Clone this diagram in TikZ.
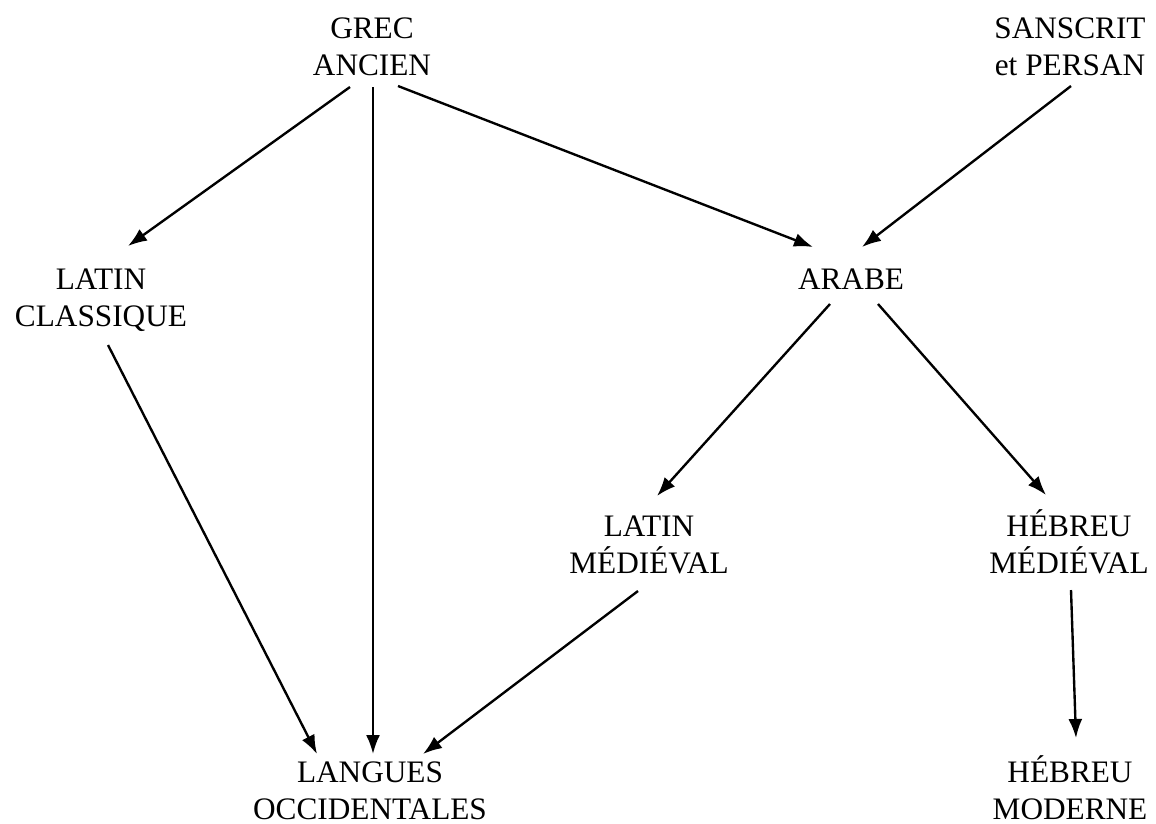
\documentclass[tikz,border=0pt]{standalone}
\usepackage{fontspec}
\setmainfont{Liberation Serif}
\usetikzlibrary{arrows.meta}
\begin{document}
\begin{tikzpicture}[x=0.02cm,y=-0.02cm,>={Latex[length=0.38cm,width=0.28cm]},line width=1.35pt,
	lang/.style={align=center,anchor=base,inner sep=0pt,font=\fontsize{17.8}{21.05}\selectfont}]
	\useasboundingbox (0,0) rectangle (1156,823);
	
	\node[lang] (grec) at (372,75) {GREC\\ANCIEN};
	\node[lang] (sanscrit) at (1070,75) {SANSCRIT\\et PERSAN};
	\node[lang] (latcl) at (101,326) {LATIN\\CLASSIQUE};
	\node[lang] (arabe) at (851,289) {ARABE};
	\node[lang] (latmed) at (649,573) {LATIN\\MÉDIÉVAL};
	\node[lang] (hebmed) at (1069,573) {HÉBREU\\MÉDIÉVAL};
	\node[lang] (langues) at (370,819) {LANGUES\\OCCIDENTALES};
	\node[lang] (hebmod) at (1070,819) {HÉBREU\\MODERNE};
	
	\draw[->] ([shift={(-22,12)}]grec.base) -- ([shift={(27,-80)}]latcl.base);
	\draw[->] ([shift={(1,12)}]grec.base) -- ([shift={(3,-65)}]langues.base);
	\draw[->] ([shift={(26,11)}]grec.base) -- ([shift={(-38,-42)}]arabe.base);
	\draw[->] ([shift={(1,11)}]sanscrit.base) -- ([shift={(11,-42)}]arabe.base);
	\draw[->] ([shift={(7,19)}]latcl.base) -- ([shift={(-53,-65)}]langues.base);
	\draw[->] ([shift={(-21,15)}]arabe.base) -- ([shift={(8,-77)}]latmed.base);
	\draw[->] ([shift={(27,15)}]arabe.base) -- ([shift={(-23,-78)}]hebmed.base);
	\draw[->] ([shift={(-11,18)}]latmed.base) -- ([shift={(53,-65)}]langues.base);
	\draw[->] ([shift={(2,17)}]hebmed.base) -- ([shift={(6,-81)}]hebmod.base);
\end{tikzpicture}
\end{document}
